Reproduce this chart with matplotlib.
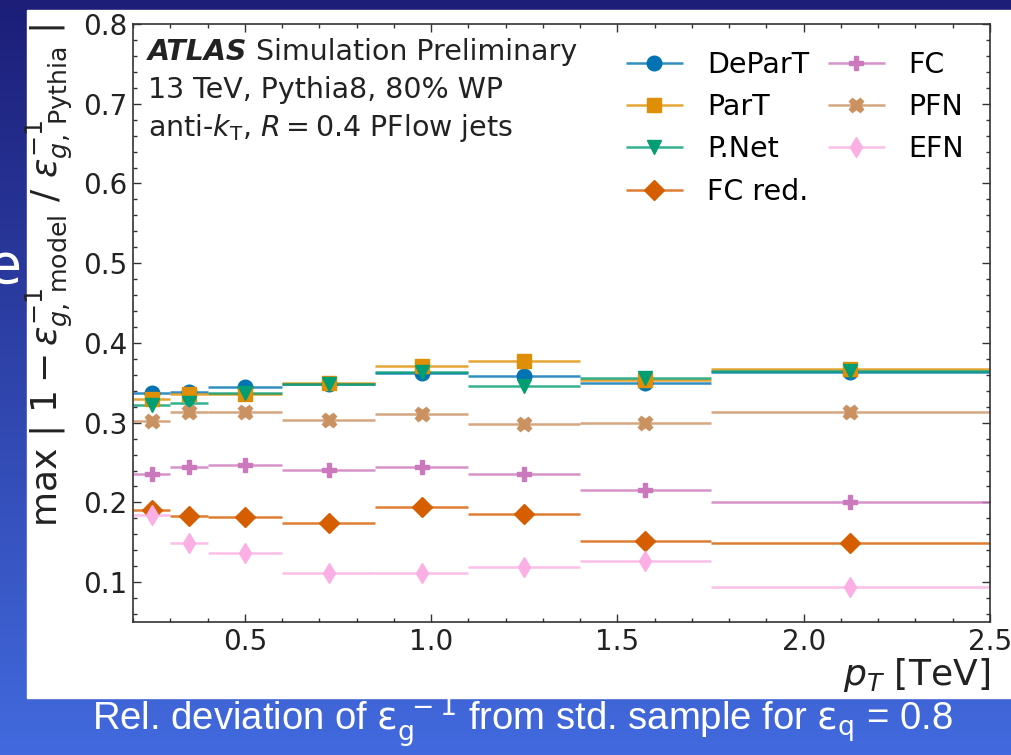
import matplotlib
matplotlib.use("Agg")
import matplotlib.pyplot as plt
import numpy as np
from matplotlib.patches import Rectangle
from matplotlib.colors import to_rgba
from matplotlib.ticker import MultipleLocator
from matplotlib.container import ErrorbarContainer
from matplotlib.legend_handler import HandlerErrorbar

# %%
# pT bins [TeV]
pt_edges = [0.2, 0.3, 0.4, 0.6, 0.85, 1.1, 1.4, 1.75, 2.5]

# max |1 - eff_model^-1 / eff_pythia^-1| per bin
departt = [0.337, 0.339, 0.345, 0.348, 0.362, 0.359, 0.350, 0.363]
part = [0.330, 0.336, 0.336, 0.350, 0.371, 0.377, 0.353, 0.367]
pnet = [0.322, 0.325, 0.337, 0.349, 0.363, 0.346, 0.356, 0.365]
fc_red = [0.190, 0.183, 0.182, 0.174, 0.194, 0.185, 0.151, 0.149]
fc = [0.235, 0.245, 0.247, 0.241, 0.244, 0.235, 0.215, 0.201]
pfn = [0.302, 0.314, 0.313, 0.303, 0.311, 0.298, 0.299, 0.313]
efn = [0.184, 0.149, 0.137, 0.111, 0.112, 0.119, 0.126, 0.094]

models = ["DeParT", "ParT", "P.Net", "FC red.", "FC", "PFN", "EFN"]
markers = ["o", "s", "v", "D", "P", "X", "d"]
colors = ["#0173B2", "#DE8F05", "#029E73", "#D55E00", "#CC78BC", "#CA9161", "#FBAFE4"]

# %%
edges = np.array(pt_edges)
centers = 0.5 * (edges[1:] + edges[:-1])
half_w = 0.5 * (edges[1:] - edges[:-1])

plt.rcParams["font.size"] = 20
plt.rcParams["mathtext.fontset"] = "dejavusans"

fig = plt.figure(figsize=(10.12, 7.55), dpi=100)

# slide background + white panel
bg = fig.add_axes([0, 0, 1, 1], zorder=-10)
grad = np.linspace(0, 1, 256)[:, None, None]
top = np.array([28, 30, 120]) / 255
bot = np.array([66, 106, 222]) / 255
bg.imshow(top + (bot - top) * grad, aspect="auto", extent=[0, 1, 0, 1])
bg.set_axis_off()
bg.add_patch(Rectangle((27 / 1012, 1 - 698 / 755), 1, (698 - 10) / 755,
                       transform=bg.transAxes, color="white", zorder=2))
fig.text(-0.012, 1 - 268 / 755, "e", color="white", fontsize=40,
         ha="left", va="center")

ax = fig.add_axes([133 / 1012, 1 - 622 / 755, (990 - 133) / 1012, (622 - 24) / 755])

for vals, name, m, c in zip([departt, part, pnet, fc_red, fc, pfn, efn],
                            models, markers, colors):
    ax.errorbar(centers, vals, xerr=half_w, fmt=m, color=c, ms=10.5,
                ecolor=to_rgba(c, 0.8), elinewidth=1.8, capsize=0, label=name)

ax.set_xlim(0.2, 2.5)
ax.set_ylim(0.05, 0.8)
ax.xaxis.set_major_locator(MultipleLocator(0.5))
ax.xaxis.set_minor_locator(MultipleLocator(0.1))
ax.yaxis.set_major_locator(MultipleLocator(0.1))
ax.yaxis.set_minor_locator(MultipleLocator(0.02))
ax.tick_params(which="both", direction="in", top=True, right=True,
               labelsize=20, pad=4, color="#333333", labelcolor="#222222")
ax.tick_params(which="major", length=6, width=1)
ax.tick_params(which="minor", length=3, width=1)
for s in ax.spines.values():
    s.set_color("#333333")
    s.set_linewidth(1.2)

ax.set_xlabel(r"$p_T$ [TeV]", loc="right", fontsize=26, labelpad=0, color="#222222")
ax.set_ylabel(r"max $|\ 1-\varepsilon^{-1}_{g,\,\mathrm{model}}\ /\ \varepsilon^{-1}_{g,\,\mathrm{Pythia}}\ |$",
              loc="top", fontsize=26, labelpad=6, color="#222222")

t = ax.text(0.0175, 0.940, "ATLAS", transform=ax.transAxes, fontsize=20.5,
            fontweight="bold", fontstyle="italic", color="#222222", va="baseline")
ax.annotate(" Simulation Preliminary", xy=(1, 0), xycoords=t, fontsize=20.5,
            va="bottom", ha="left", color="#222222")
ax.text(0.0175, 0.876, "13 TeV, Pythia8, 80% WP", transform=ax.transAxes,
        fontsize=20.5, va="baseline", color="#222222")
ax.text(0.0175, 0.813, r"anti-$k_{\mathrm{T}}$, $R=0.4$ PFlow jets",
        transform=ax.transAxes, fontsize=20.5, va="baseline", color="#222222")

ax.legend(loc="upper right", bbox_to_anchor=(1.0, 0.998), ncol=2,
          frameon=False, fontsize=20.5, handlelength=2.2, handletextpad=0.75,
          columnspacing=0.55, labelspacing=0.5,
          handler_map={ErrorbarContainer: HandlerErrorbar(xerr_size=1.0)})

fig.text(0.516, 1 - 722 / 755,
         r"Rel. deviation of $\mathrm{\epsilon}_{\rm g}^{\ -1}$ from std. sample for $\mathrm{\epsilon}_{\rm q}$ = 0.8",
         color="white", fontsize=27.5, ha="center", va="center",
         family=["Liberation Sans Narrow", "Liberation Sans", "DejaVu Sans"])

fig.savefig("out.png", dpi=100)
